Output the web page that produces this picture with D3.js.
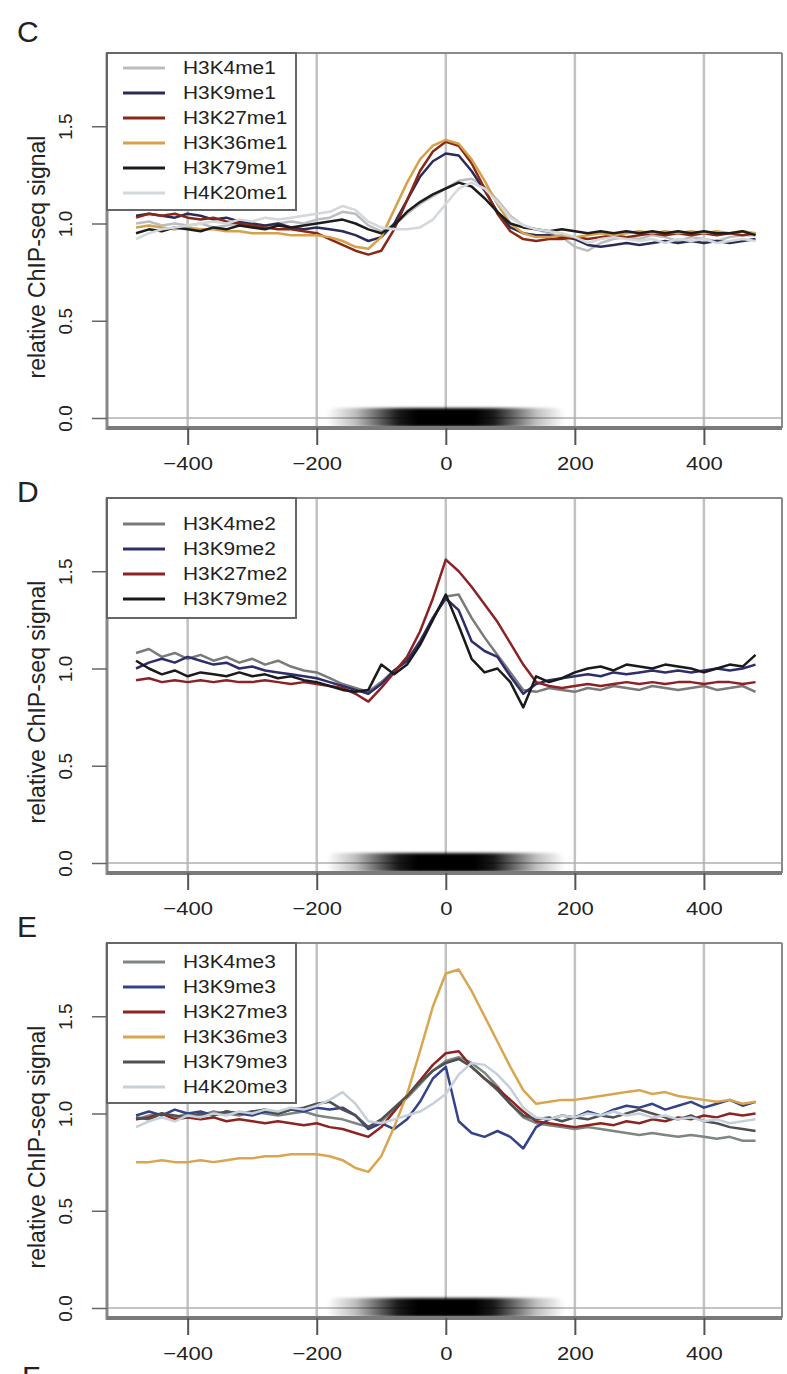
<!DOCTYPE html>
<html>
<head>
<meta charset="utf-8">
<script src="https://cdn.jsdelivr.net/npm/d3@7"></script>
<style>
  body { margin: 0; background: #fff; }
  svg { display: block; }
  text { font-family: "Liberation Sans", Arial, Helvetica, sans-serif; fill: #222; }
</style>
</head>
<body>
<div id="chart"></div>
<script>
// distance from the nucleosome dyad (bp)
const positions = [
  -480, -460, -440, -420, -400, -380, -360, -340, -320, -300,
  -280, -260, -240, -220, -200, -180, -160, -140, -120, -100,
  -80, -60, -40, -20, 0, 20, 40, 60, 80, 100,
  120, 140, 160, 180, 200, 220, 240, 260, 280, 300,
  320, 340, 360, 380, 400, 420, 440, 460, 480
];
const xTicks = [-400, -200, 0, 200, 400];
const yTicks = [0, 0.5, 1, 1.5];

// C: mono-methylation
const marksC = ['H3K4me1', 'H3K9me1', 'H3K27me1', 'H3K36me1', 'H3K79me1', 'H4K20me1'];
const signalC = [
  [1.00,1.01,0.99,1.00,0.99,1.00,0.98,0.99,1.00,0.99,
   0.98,1.00,1.01,1.00,1.02,1.03,1.06,1.05,0.99,0.96,
   0.99,1.05,1.10,1.14,1.18,1.22,1.23,1.19,1.12,1.04,
   0.99,0.97,0.95,0.93,0.88,0.86,0.90,0.92,0.93,0.92,
   0.94,0.93,0.91,0.93,0.92,0.91,0.93,0.94,0.94],
  [1.04,1.05,1.04,1.03,1.05,1.04,1.02,1.03,1.01,1.00,
   0.99,1.00,0.98,0.97,0.98,0.97,0.96,0.94,0.91,0.93,
   1.00,1.12,1.24,1.32,1.36,1.35,1.27,1.17,1.06,0.98,
   0.95,0.94,0.94,0.93,0.92,0.89,0.88,0.89,0.90,0.89,
   0.90,0.91,0.90,0.91,0.90,0.91,0.90,0.91,0.92],
  [1.03,1.05,1.04,1.05,1.03,1.02,1.03,1.01,1.00,0.99,
   0.98,0.97,0.97,0.96,0.95,0.92,0.89,0.86,0.84,0.86,
   0.97,1.12,1.27,1.37,1.42,1.40,1.31,1.18,1.05,0.96,
   0.92,0.91,0.92,0.92,0.93,0.92,0.93,0.94,0.93,0.94,
   0.95,0.94,0.95,0.94,0.95,0.94,0.95,0.94,0.95],
  [0.98,0.99,0.98,0.97,0.98,0.97,0.97,0.96,0.96,0.95,
   0.95,0.95,0.94,0.94,0.94,0.93,0.91,0.88,0.87,0.93,
   1.07,1.21,1.33,1.40,1.43,1.41,1.33,1.22,1.10,1.00,
   0.95,0.93,0.93,0.94,0.93,0.94,0.95,0.94,0.95,0.96,
   0.95,0.96,0.95,0.96,0.95,0.96,0.95,0.96,0.95],
  [0.95,0.97,0.96,0.98,0.97,0.96,0.98,0.97,0.99,0.98,
   0.97,0.99,0.98,0.99,1.00,1.01,1.02,1.00,0.97,0.95,
   0.99,1.06,1.11,1.15,1.18,1.21,1.19,1.13,1.06,1.00,
   0.98,0.97,0.96,0.97,0.96,0.95,0.96,0.95,0.96,0.95,
   0.96,0.95,0.96,0.95,0.96,0.95,0.95,0.96,0.94],
  [0.92,0.95,0.97,0.98,0.99,1.00,1.01,1.00,1.02,1.01,
   1.03,1.02,1.03,1.04,1.05,1.06,1.09,1.07,1.01,0.98,
   0.97,0.97,0.98,1.02,1.10,1.18,1.21,1.18,1.11,1.03,
   0.99,0.97,0.96,0.95,0.93,0.90,0.92,0.93,0.92,0.91,
   0.92,0.90,0.92,0.91,0.92,0.90,0.91,0.92,0.91]
];

// D: di-methylation
const marksD = ['H3K4me2', 'H3K9me2', 'H3K27me2', 'H3K79me2'];
const signalD = [
  [1.08,1.10,1.06,1.08,1.05,1.07,1.04,1.06,1.03,1.05,
   1.02,1.04,1.01,0.99,0.98,0.95,0.92,0.90,0.88,0.93,
   0.99,1.04,1.13,1.26,1.37,1.38,1.26,1.16,1.07,0.98,
   0.89,0.88,0.90,0.89,0.88,0.90,0.89,0.91,0.90,0.89,
   0.91,0.90,0.89,0.90,0.91,0.89,0.90,0.91,0.88],
  [1.00,1.03,1.05,1.03,1.06,1.04,1.02,1.03,1.00,1.01,
   0.99,0.98,0.97,0.96,0.95,0.93,0.91,0.89,0.87,0.92,
   0.99,1.04,1.14,1.26,1.36,1.30,1.14,1.09,1.06,0.96,
   0.87,0.92,0.94,0.95,0.96,0.97,0.96,0.98,0.97,0.98,
   0.99,0.98,0.99,0.98,0.99,1.00,0.99,1.00,1.02],
  [0.94,0.95,0.93,0.94,0.93,0.94,0.93,0.94,0.93,0.93,
   0.94,0.93,0.92,0.93,0.92,0.91,0.90,0.87,0.83,0.90,
   0.98,1.06,1.19,1.36,1.56,1.50,1.42,1.33,1.24,1.13,
   1.02,0.93,0.91,0.90,0.91,0.92,0.91,0.92,0.93,0.92,
   0.93,0.92,0.93,0.93,0.92,0.93,0.93,0.92,0.93],
  [1.04,1.00,0.97,0.99,0.96,0.98,0.97,0.96,0.98,0.96,
   0.97,0.95,0.96,0.94,0.93,0.91,0.89,0.88,0.89,1.02,
   0.97,1.02,1.12,1.25,1.38,1.22,1.05,0.98,1.00,0.93,
   0.80,0.96,0.93,0.95,0.98,1.00,1.01,0.99,1.02,1.01,
   1.00,1.02,1.01,1.00,0.98,1.00,1.02,1.01,1.07]
];

// E: tri-methylation
const marksE = ['H3K4me3', 'H3K9me3', 'H3K27me3', 'H3K36me3', 'H3K79me3', 'H4K20me3'];
const signalE = [
  [0.97,0.99,1.00,0.98,1.00,0.99,1.01,1.00,0.99,1.01,
   1.00,0.99,1.00,1.01,0.99,0.98,0.97,0.95,0.93,0.96,
   1.02,1.08,1.15,1.22,1.27,1.29,1.26,1.21,1.14,1.05,
   0.98,0.95,0.94,0.93,0.92,0.93,0.92,0.91,0.90,0.89,
   0.90,0.89,0.88,0.89,0.88,0.87,0.88,0.86,0.86],
  [0.99,1.01,0.99,1.02,1.00,1.01,0.99,1.01,1.00,0.99,
   1.01,1.00,1.02,1.01,1.03,1.02,1.03,0.99,0.92,0.95,
   0.92,0.97,1.06,1.18,1.24,0.96,0.90,0.88,0.91,0.88,
   0.82,0.93,0.97,0.99,0.98,1.01,0.99,1.02,1.04,1.03,
   1.05,1.02,1.04,1.06,1.03,1.05,1.07,1.04,1.06],
  [0.97,0.98,1.00,0.97,0.98,0.97,0.98,0.96,0.97,0.96,
   0.95,0.96,0.95,0.94,0.95,0.93,0.92,0.90,0.88,0.93,
   1.01,1.09,1.17,1.25,1.31,1.32,1.24,1.18,1.13,1.07,
   1.01,0.96,0.95,0.94,0.93,0.94,0.95,0.94,0.96,0.95,
   0.97,0.96,0.98,0.97,0.99,0.98,1.00,0.99,1.00],
  [0.75,0.75,0.76,0.75,0.75,0.76,0.75,0.76,0.77,0.77,
   0.78,0.78,0.79,0.79,0.79,0.78,0.76,0.72,0.70,0.78,
   0.93,1.10,1.32,1.55,1.72,1.74,1.63,1.50,1.37,1.24,
   1.12,1.05,1.06,1.07,1.07,1.08,1.09,1.10,1.11,1.12,
   1.10,1.11,1.09,1.08,1.07,1.06,1.07,1.05,1.06],
  [0.98,0.97,1.00,0.99,0.98,1.00,0.99,1.01,1.00,1.01,
   1.02,1.00,1.02,1.03,1.05,1.06,1.02,0.99,0.93,0.97,
   1.03,1.09,1.16,1.22,1.26,1.28,1.24,1.18,1.12,1.05,
   0.99,0.97,0.98,0.96,0.98,0.97,0.99,0.98,1.00,1.02,
   1.00,0.98,0.97,0.99,0.96,0.95,0.93,0.92,0.91],
  [0.93,0.96,0.98,0.96,0.99,0.98,1.00,0.99,1.01,1.00,
   1.02,1.01,1.03,1.02,1.04,1.07,1.11,1.05,0.96,0.95,
   0.97,0.99,1.01,1.05,1.10,1.20,1.26,1.25,1.20,1.13,
   1.03,0.98,0.97,0.99,0.98,1.00,0.99,1.01,0.99,1.00,
   0.98,0.99,0.97,0.98,0.96,0.97,0.95,0.96,0.97]
];

const colorsC = ['#bdbdbd', '#2b2b58', '#8a2818', '#d6a14a', '#1c1c1c', '#d3d8dd'];
const colorsD = ['#7a7a7a', '#2e2e6c', '#8c2226', '#1a1a1a'];
const colorsE = ['#7e8680', '#34428a', '#8e2420', '#d9a650', '#505050', '#c6d0da'];

const panels = [
  { letter: 'C', letterY: 42, marks: marksC, signal: signalC, colors: colorsC, legendH: 157, legendPad: 15 },
  { letter: 'D', letterY: 502, marks: marksD, signal: signalD, colors: colorsD, legendH: 120, legendPad: 26 },
  { letter: 'E', letterY: 937, marks: marksE, signal: signalE, colors: colorsE, legendH: 160, legendPad: 19 }
];

const W = 787, H = 1374;
const svg = d3.select('#chart').append('svg').attr('width', W).attr('height', H);

const defs = svg.append('defs');
const grad = defs.append('linearGradient').attr('id', 'nuc');
[[0, 0], [0.12, 0.25], [0.3, 0.9], [0.38, 1], [0.62, 1], [0.7, 0.9], [0.88, 0.25], [1, 0]].forEach(([o, a]) => {
  grad.append('stop').attr('offset', o).attr('stop-color', '#000').attr('stop-opacity', a);
});
defs.append('filter').attr('id', 'soft').attr('x', '-10%').attr('y', '-50%').attr('width', '120%').attr('height', '200%')
  .append('feGaussianBlur').attr('stdDeviation', '2 1.6');

const x = d3.scaleLinear().domain([-525, 521]).range([107, 782]);
const [left, right] = x.range();

panels.forEach((p, i) => {
  const zeroY = 418 + 445 * i;
  const top = zeroY - 365, bottom = zeroY + 10;
  const y = d3.scaleLinear().domain([0, 1.5]).range([zeroY, zeroY - 291.75]);
  const g = svg.append('g');

  // vertical grid
  g.selectAll('line.grid').data(xTicks).join('line')
    .attr('x1', d => x(d)).attr('x2', d => x(d))
    .attr('y1', top).attr('y2', bottom)
    .attr('stroke', '#c2c2c2').attr('stroke-width', 2.5);

  // baseline at 0
  g.append('line')
    .attr('x1', left).attr('x2', right).attr('y1', y(0)).attr('y2', y(0))
    .attr('stroke', '#b0b0b0').attr('stroke-width', 1.5);

  // nucleosome
  g.append('rect')
    .attr('x', x(-185)).attr('width', x(185) - x(-185))
    .attr('y', y(0) - 10).attr('height', 19)
    .attr('rx', 9)
    .attr('fill', 'url(#nuc)')
    .attr('filter', 'url(#soft)');

  // profiles
  const line = d3.line().x((d, k) => x(positions[k])).y(d => y(d));
  g.selectAll('path.profile').data(p.signal).join('path')
    .attr('fill', 'none')
    .attr('stroke', (d, k) => p.colors[k])
    .attr('stroke-width', 2.5)
    .attr('stroke-linejoin', 'round')
    .attr('d', line);

  // frame
  g.append('line').attr('x1', left).attr('x2', right).attr('y1', top).attr('y2', top)
    .attr('stroke', '#8a8a8a').attr('stroke-width', 2);
  g.append('line').attr('x1', right).attr('x2', right).attr('y1', top).attr('y2', bottom)
    .attr('stroke', '#8a8a8a').attr('stroke-width', 2);
  g.append('line').attr('x1', left).attr('x2', left).attr('y1', top).attr('y2', bottom + 2)
    .attr('stroke', '#888').attr('stroke-width', 3);
  g.append('line').attr('x1', left).attr('x2', right).attr('y1', bottom).attr('y2', bottom)
    .attr('stroke', '#7a7a7a').attr('stroke-width', 4);

  // x axis
  const xAxis = g.append('g').attr('transform', `translate(0,${bottom})`)
    .call(d3.axisBottom(x).tickValues(xTicks).tickSize(17).tickFormat(d3.format('d')));
  xAxis.select('.domain').remove();
  xAxis.selectAll('.tick line').attr('stroke', '#555').attr('stroke-width', 2);
  xAxis.selectAll('.tick text')
    .attr('y', 42).attr('dy', null)
    .attr('transform', 'scale(1.16,1)')
    .attr('font-size', 19).attr('fill', '#222');

  // y axis
  const yAxis = g.append('g').attr('transform', `translate(${left},0)`)
    .call(d3.axisLeft(y).tickValues(yTicks).tickSize(15).tickFormat(d3.format('.1f')));
  yAxis.select('.domain').remove();
  yAxis.selectAll('.tick line').attr('stroke', '#666').attr('stroke-width', 1.5);
  yAxis.selectAll('.tick text')
    .attr('transform', 'rotate(-90)')
    .attr('x', 0).attr('y', -35).attr('dy', null)
    .attr('text-anchor', 'middle')
    .attr('font-size', 19).attr('fill', '#222');

  g.append('text')
    .attr('transform', `translate(45,${top + 204}) rotate(-90)`)
    .attr('text-anchor', 'middle')
    .attr('font-size', 23)
    .text('relative ChIP-seq signal');

  // legend
  const lg = g.append('g');
  lg.append('rect')
    .attr('x', left).attr('y', top)
    .attr('width', 189).attr('height', p.legendH)
    .attr('fill', '#fff').attr('stroke', '#666').attr('stroke-width', 2);
  const items = lg.selectAll('g.item').data(p.marks).join('g')
    .attr('transform', (d, k) => `translate(0,${top + p.legendPad + k * 25})`);
  items.append('line')
    .attr('x1', 123).attr('x2', 165)
    .attr('stroke', (d, k) => p.colors[k]).attr('stroke-width', 3);
  items.append('text')
    .attr('transform', 'translate(183,0) scale(1.16,1)')
    .attr('dy', '0.35em')
    .attr('font-size', 18)
    .text(d => d);

  svg.append('text')
    .attr('x', 17).attr('y', p.letterY)
    .attr('font-size', 30)
    .attr('fill', '#111')
    .text(p.letter);
});

// next panel's letter, cut off at the bottom edge as in the figure
svg.append('text').attr('x', 22).attr('y', 1387).attr('font-size', 30).attr('fill', '#111').text('F');
</script>
</body>
</html>
